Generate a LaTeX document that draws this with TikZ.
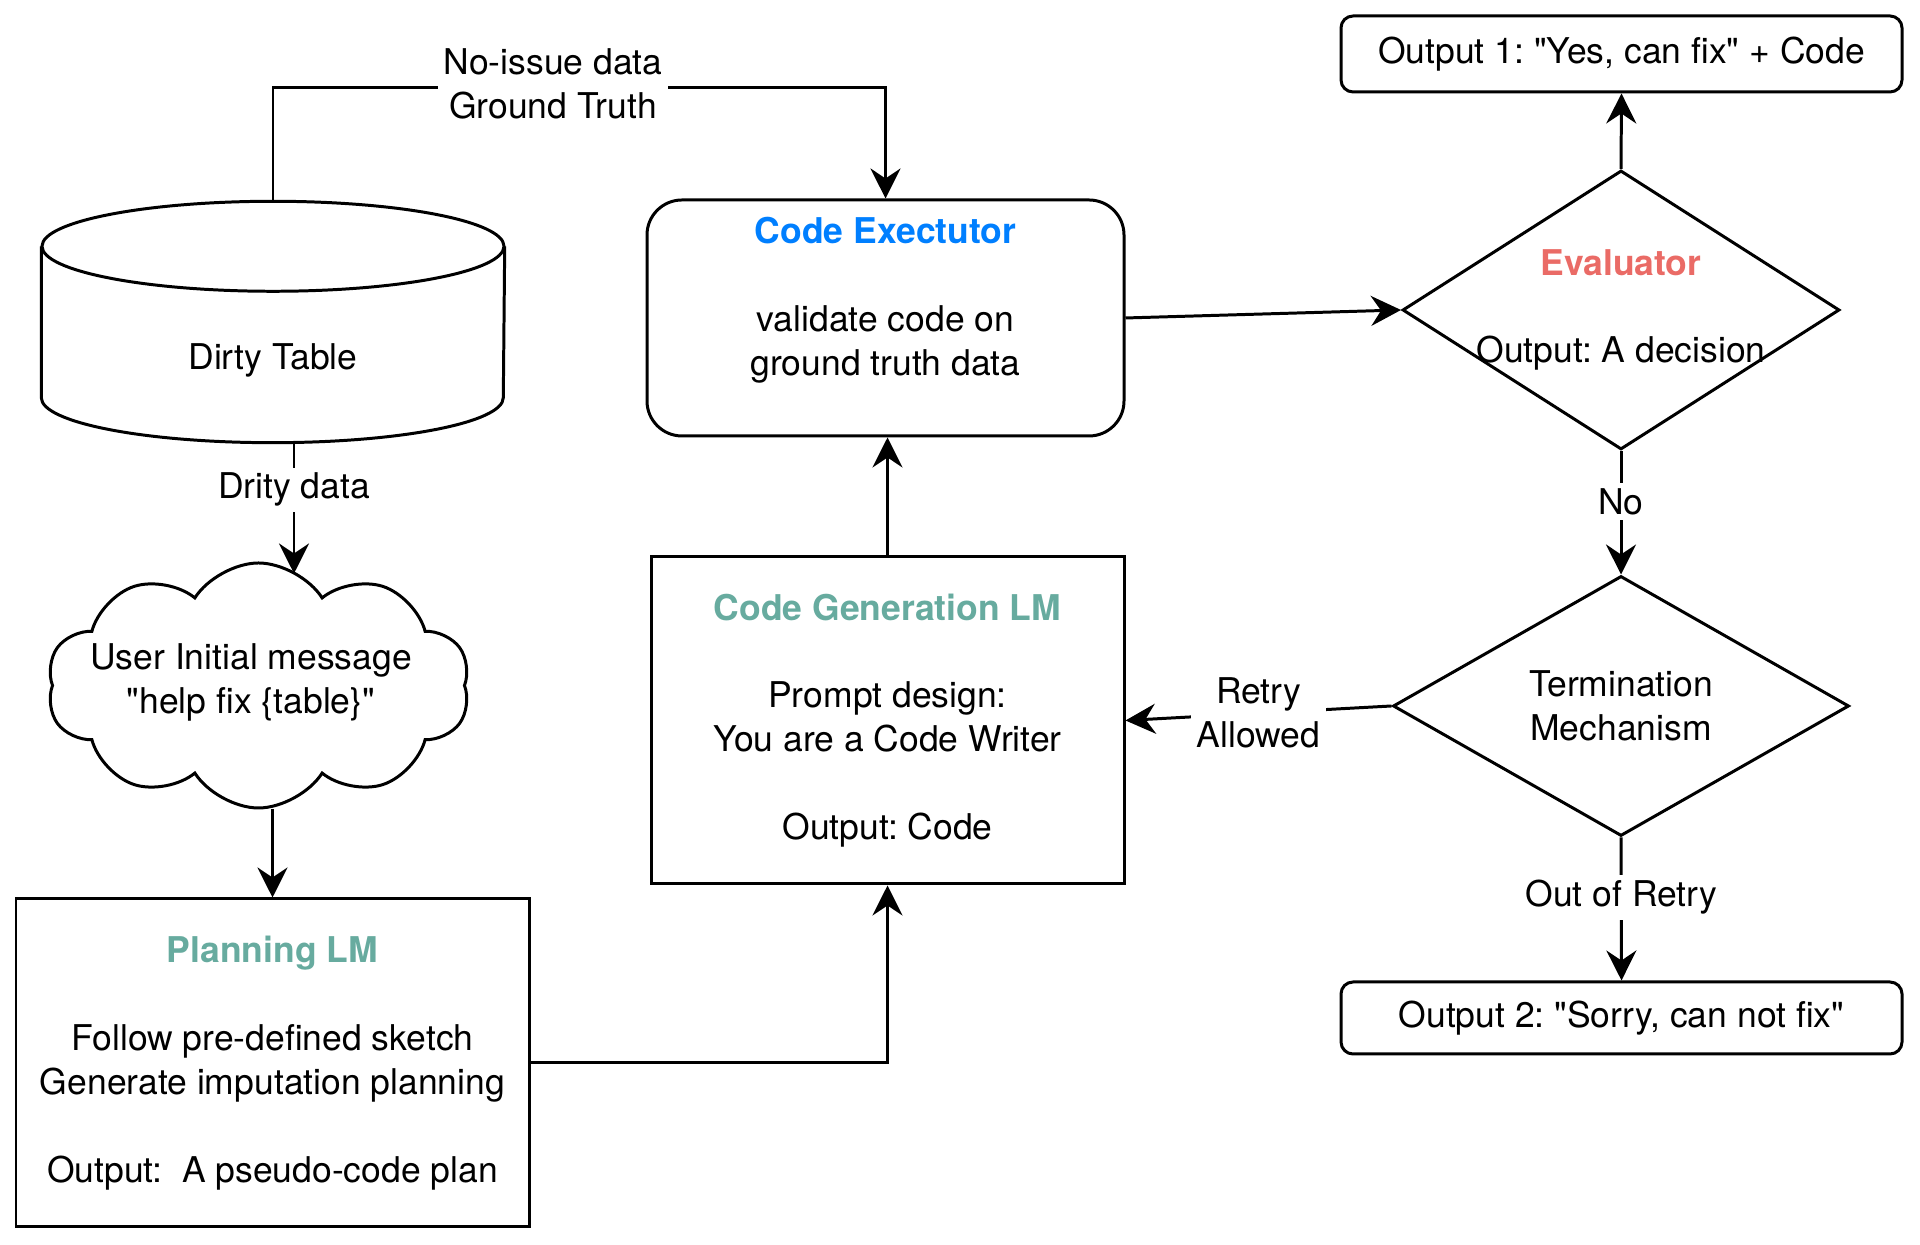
\documentclass[tikz,border=0pt]{standalone}
\usepackage{fontspec}
\setmainfont{TeX Gyre Heros}
\usepackage{tikz}
\usepackage{xcolor}
\usetikzlibrary{arrows.meta,shapes,positioning}

\definecolor{execblue}{HTML}{007FFF}
\definecolor{lmteal}{HTML}{67AB9F}
\definecolor{evalred}{HTML}{EA6B66}

\newcommand{\boxtitle}[2]{\textcolor{#1}{\bfseries #2}}
\newcommand{\qq}{\textquotedbl}

\begin{document}
\frenchspacing
\begin{tikzpicture}[
    font=\fontsize{10.1}{12.5}\selectfont,
    >={Stealth[length=3mm, width=3mm, inset=1mm]},
    flow/.style={->, line width=0.85pt},
    sqbox/.style={draw, line width=0.85pt, align=center, inner sep=2pt},
    rbox/.style={sqbox, rounded corners=3.5mm},
    outbox/.style={sqbox, rounded corners=1.2mm, minimum width=5.61cm},
    decision/.style={diamond, draw, line width=0.85pt, inner sep=0pt},
    lbl/.style={fill=white, inner sep=1.5pt, align=center}
]
    % Canvas
    \useasboundingbox (0,0) rectangle (19.2,12.45);

    % Dirty table (cylinder drawn round the node)
    \node[minimum width=4.62cm, minimum height=2.40cm, inner sep=0pt] (dirty) at (2.73,9.23) {};
    \draw[line width=0.85pt] ([yshift=-4.5mm]dirty.north) ellipse (2.31 and 0.45);
    \draw[line width=0.85pt] ([yshift=-4.5mm]dirty.north west) -- ([yshift=4.5mm]dirty.south west)
        arc[start angle=180, end angle=360, x radius=2.31, y radius=0.45]
        -- ([yshift=-4.5mm]dirty.north east);
    \node (dirtytxt) at (2.73,8.85) {Dirty Table};

    % User message
    \node[cloud, draw, line width=0.85pt, cloud puffs=10, cloud puff arc=115,
          minimum width=4.23cm, minimum height=2.45cm] (cloud) at (2.585,5.595) {};
    \node[align=center] (msg) at (2.51,5.625) {User Initial message\\\qq help fix \{table\}\qq};

    % Planning LM
    \node[sqbox, minimum width=5.13cm, minimum height=3.28cm] (plan) at (2.725,1.82)
        {\boxtitle{lmteal}{Planning LM}\\[12.5pt]
         Follow pre-defined sketch\\Generate imputation planning\\[12.5pt]
         Output:\ \ A pseudo-code plan};

    % Code generation LM
    \node[sqbox, minimum width=4.73cm, minimum height=3.27cm] (gen) at (8.875,5.245)
        {\boxtitle{lmteal}{Code Generation LM}\\[12.5pt]
         Prompt design:\\You are a Code Writer\\[12.5pt]
         Output: Code};

    % Code executor
    \node[rbox, minimum width=4.77cm, minimum height=2.36cm] (exec) at (8.855,9.27)
        {\boxtitle{execblue}{Code Exectutor}\\[12.5pt]
         validate code on\\ground truth data\\\mbox{}};

    % Evaluator
    \node[decision, minimum width=4.37cm, minimum height=2.79cm] (eval) at (16.21,9.35) {};
    \node[align=center] (evaltxt) at (eval) {\boxtitle{evalred}{Evaluator}\\[12.5pt]Output: A decision};

    % Termination
    \node[decision, minimum width=4.56cm, minimum height=2.60cm] (term) at (16.21,5.39) {};
    \node[align=center] (termtxt) at (term) {Termination\\Mechanism};

    % Outputs
    \node[outbox, minimum height=0.76cm] (out1) at (16.215,11.91) {Output 1: \qq Yes, can fix\qq{} + Code};
    \node[outbox, minimum height=0.72cm] (out2) at (16.215,2.27) {Output 2: \qq Sorry, can not fix\qq};

    % Connections
    \draw[flow] (dirty.north) -- ++(0,1.14) -| (exec.north);
    \node[lbl] (gt) at (5.53,11.61) {No-issue data\\Ground Truth};
    \draw[flow] ([xshift=2.1mm]dirty.south) -- node[lbl, pos=0.36] {Drity data}
        ([xshift=2.1mm, yshift=-1.2mm]dirty.south |- cloud.north);
    \draw[flow] (plan.north |- cloud.south) -- (plan.north);
    \draw[flow] (plan.east) -| (gen.south);
    \draw[flow] (gen.north) -- (gen.north |- exec.south);
    \draw[flow] (exec.east) -- (eval.west);
    \draw[flow] (eval.north) -- (out1.south);
    \draw[flow] (eval.south) -- node[lbl, pos=0.41] {No} (term.north);
    \draw[flow] (term.south) -- node[lbl, pos=0.42] {Out of Retry} (out2.north);
    \draw[flow] (term.west) -- node[lbl] {Retry\\Allowed} (gen.east);
\end{tikzpicture}
\end{document}
